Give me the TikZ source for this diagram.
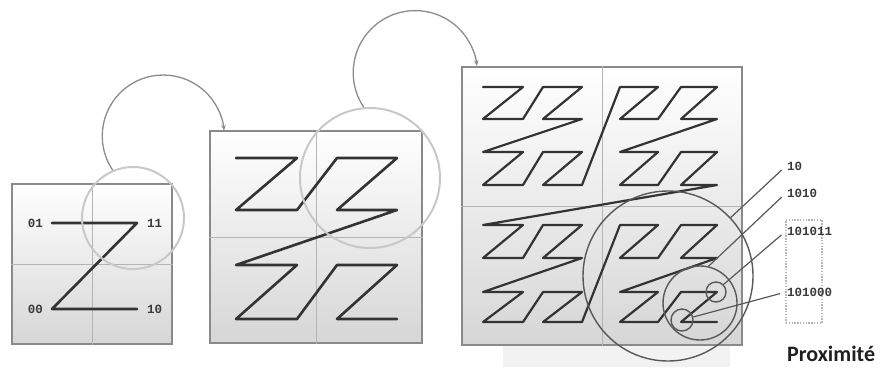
\documentclass[tikz,border=0pt]{standalone}
\usepackage{fontspec}
\usepackage{tikz}
\usetikzlibrary{arrows.meta, positioning, shapes.geometric}
\setmainfont{Liberation Sans}
\newfontfamily\bitsfont{Liberation Mono}
\newfontfamily\captionfont{Carlito}
\definecolor{frame}{HTML}{8A8A8A}
\definecolor{gridline}{HTML}{B4B4B4}
\definecolor{curve}{HTML}{333333}
\definecolor{halo}{HTML}{C8C8C8}
\definecolor{ring}{HTML}{585858}
\definecolor{hopgray}{HTML}{8C8C8C}
\definecolor{bittext}{HTML}{3A3A3A}

\begin{document}
\begin{tikzpicture}[
  x=1pt, y=-1pt,
  box/.style={rectangle, draw=frame, line width=1.4pt, top color=white,
              bottom color=black!16, inner sep=0pt},
  grid/.style={draw=gridline, line width=0.9pt},
  zline/.style={draw=curve, line width=2.6pt, line join=round, line cap=round},
  zthin/.style={draw=curve, line width=2.2pt, line join=round, line cap=round},
  halo/.style={circle, draw=halo, line width=2pt, inner sep=0pt},
  ring/.style={circle, draw=ring, line width=1.4pt, inner sep=0pt},
  lead/.style={draw=ring, line width=1.2pt, shorten <=6pt},
  hop/.style={-{Stealth[length=6pt, width=4.5pt]}, draw=hopgray, line width=1.3pt},
  bits/.style={font=\bitsfont\bfseries\fontsize{12.5}{14}\selectfont, text=bittext, inner sep=1pt},
  dotbox/.style={rectangle, draw=gridline, line width=1.2pt, dash pattern=on 1.4pt off 1.4pt, inner sep=0pt}
]
  \useasboundingbox (0,0) rectangle (882,367);

  % ── Frames ──────────────────────────────────────────────────────────────────
  \fill[black!5] (503,345) rectangle (730,367);
  \node[box, minimum size=160] (b1) at (92,264) {};
  \node[box, minimum size=212] (b2) at (316,237) {};
  \node[box, minimum width=280, minimum height=278] (b3) at (602,206) {};
  \draw[grid] (b1.north) -- (b1.south) (b1.west) -- (b1.east);
  \draw[grid] (b2.north) -- (b2.south) (b2.west) -- (b2.east);
  \draw[grid] (b3.north) -- (b3.south) (b3.west) -- (b3.east);

  % ── Order 1 ─────────────────────────────────────────────────────────────────
  \coordinate (p0) at (52,223);
  \coordinate (p1) at (137,223);
  \coordinate (p2) at (52,309);
  \coordinate (p3) at (137,309);
  \draw[zline] (p0) -- (p1) -- (p2) -- (p3);
  \node[bits, left=8pt of p0]  (l01) {01};
  \node[bits, right=9pt of p1] (l11) {11};
  \node[bits, left=8pt of p2]  (l00) {00};
  \node[bits, right=9pt of p3] (l10) {10};

  % ── Order 2 ─────────────────────────────────────────────────────────────────
  \foreach \i in {0,...,15}{
    \pgfmathtruncatemacro\col{mod(\i,2)+2*mod(int(\i/4),2)}
    \pgfmathtruncatemacro\row{mod(int(\i/2),2)+2*mod(int(\i/8),2)}
    \pgfmathsetmacro\px{{236,297,337,397}[\col]}
    \pgfmathsetmacro\py{{158,210,265,319}[\row]}
    \coordinate (r\i) at (\px,\py);
  }
  \draw[zline] plot[samples at={0,...,15}, variable=\k] (r\k);

  % ── Order 3 ─────────────────────────────────────────────────────────────────
  \foreach \i in {0,...,63}{
    \pgfmathtruncatemacro\col{mod(\i,2)+2*mod(int(\i/4),2)+4*mod(int(\i/16),2)}
    \pgfmathtruncatemacro\row{mod(int(\i/2),2)+2*mod(int(\i/8),2)+4*mod(int(\i/32),2)}
    \pgfmathsetmacro\px{{483,523,543,582,620,658,681,717}[\col]}
    \pgfmathsetmacro\py{{87,119,152,185,225,258,292,322}[\row]}
    \coordinate (q\i) at (\px,\py);
  }
  \draw[zthin] plot[samples at={0,...,63}, variable=\k] (q\k);

  % ── Zoom circles and hops ───────────────────────────────────────────────────
  \node[halo, minimum size=102] (c1) at (133,218) {};
  \node[halo, minimum size=140] (c2) at (370,178) {};
  \draw[hop] (c1.113) arc[start angle=-214, end angle=-5, radius=61];
  \draw[hop] (c2.95) arc[start angle=-214, end angle=-6, radius=62];

  % ── Proximity ───────────────────────────────────────────────────────────────
  \node[ring, minimum size=170] (bigc) at (668,276) {};
  \node[ring, minimum size=74]  (medc) at (700,303) {};
  \node[ring, minimum size=20]  (s1)   at (716,292) {};
  \node[ring, minimum size=22]  (s2)   at (682,320) {};

  \node[dotbox, minimum width=36, minimum height=103] (grp) at (804,271.5) {};

  \node[bits, anchor=west] (k10)     at (786,166) {10};
  \node[bits, anchor=west] (k1010)   at (786,193) {1010};
  \node[bits, anchor=west] (k101011) at (786,231) {101011};
  \node[bits, anchor=west] (k101000) at (786,292) {101000};

  \draw[lead] (k10.west)     -- (bigc.43);
  \draw[lead] (k1010.west)   -- (medc.77);
  \draw[lead] (k101011.west) -- (s1.45);
  \draw[lead] (k101000.west) -- (s2.15);

  \node[font=\captionfont\bfseries\fontsize{22}{25}\selectfont, text=black!88,
        anchor=base west, inner sep=0pt] (prox) at (787,361) {Proximité};
\end{tikzpicture}
\end{document}
